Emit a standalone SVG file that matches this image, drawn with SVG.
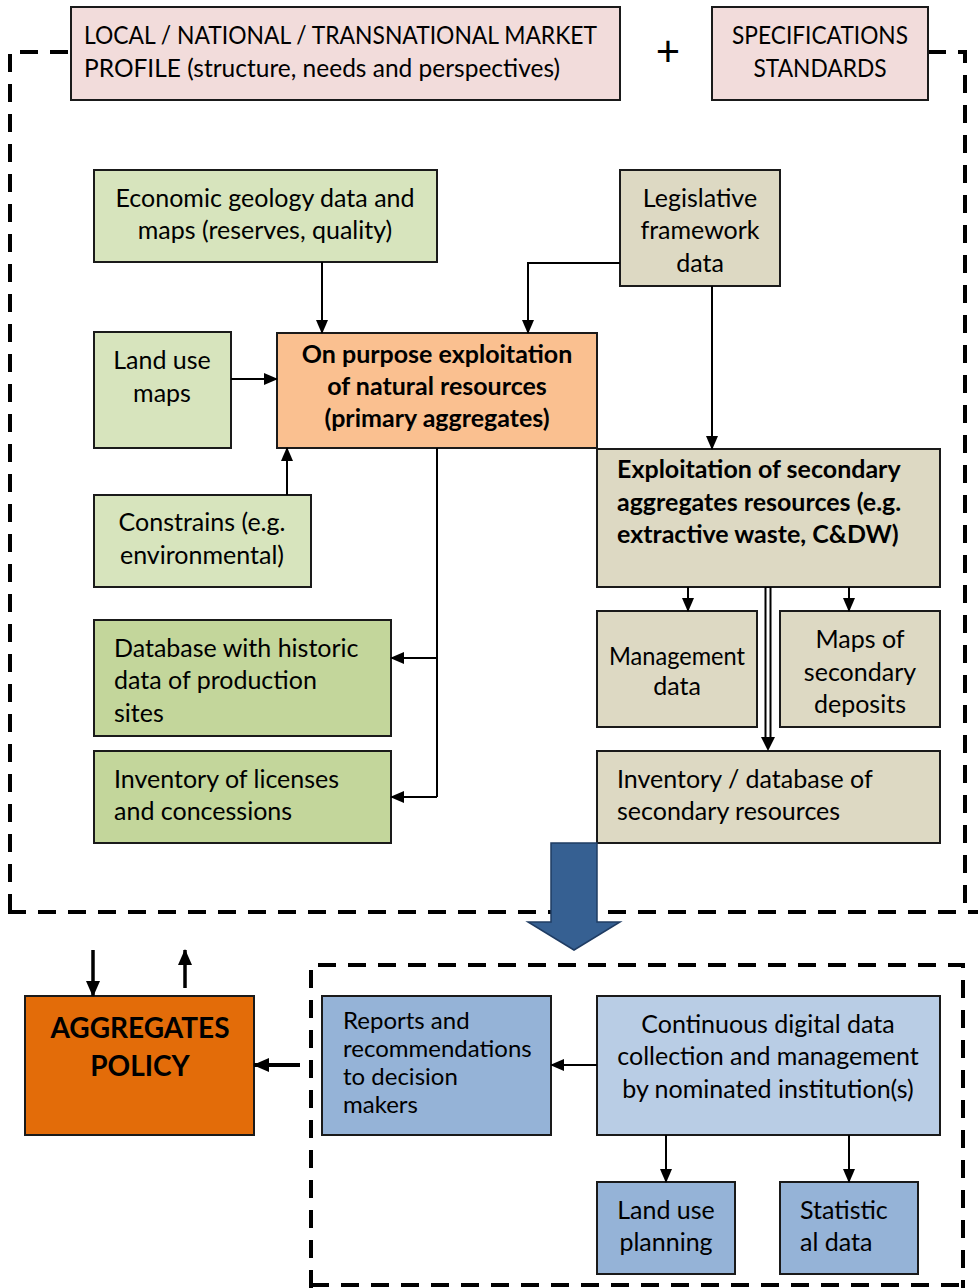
<svg xmlns="http://www.w3.org/2000/svg" width="980" height="1288" viewBox="0 0 980 1288">
<defs>
<marker id="ah" markerUnits="userSpaceOnUse" markerWidth="14" markerHeight="14" viewBox="0 0 14 14" refX="13" refY="7" orient="auto">
<path d="M0,1 L14,7 L0,13 Z" fill="#000"/>
</marker>
<marker id="ahb" markerUnits="userSpaceOnUse" markerWidth="16" markerHeight="16" viewBox="0 0 16 16" refX="15" refY="8" orient="auto">
<path d="M0,1 L16,8 L0,15 Z" fill="#000"/>
</marker>
</defs>
<style>
.box{stroke:#1a1a1a;stroke-width:2}
.pink{fill:#f2dcdb}
.lg{fill:#d7e4bd}
.dg{fill:#c3d69b}
.tan{fill:#ddd9c3}
.lor{fill:#fac090}
.or{fill:#e36c09}
.mb{fill:#95b3d7}
.lb{fill:#b9cde5}
text{font-family:Lato,"Open Sans","Liberation Sans",sans-serif;font-size:25px;fill:#000}
.c{text-anchor:middle}
.b{font-weight:bold}
.dash{fill:none;stroke:#000;stroke-width:4;stroke-dasharray:18 12}
.ln{fill:none;stroke:#000;stroke-width:2}
</style>
<rect width="980" height="1288" fill="#fff"/>

<g id="frames">
<path class="dash" d="M10,912 L10,52 L71,52"/>
<path class="dash" d="M928,52 L965,52 L965,912"/>
<path class="dash" d="M8,912 L978,912"/>
<path class="dash" d="M311,1288 L311,965 L963,965 L963,1288"/>
<path class="dash" d="M311,1285 L963,1285"/>
</g>

<g id="market">
<rect class="box pink" x="71" y="7" width="549" height="93"/>
<text x="84" y="44" textLength="513" lengthAdjust="spacingAndGlyphs">LOCAL / NATIONAL / TRANSNATIONAL MARKET</text>
<text x="84" y="77" textLength="476" lengthAdjust="spacingAndGlyphs">PROFILE (structure, needs and perspectives)</text>
</g>
<g id="plus"><text x="668" y="66" class="c" style="font-size:42px">+</text></g>
<g id="specs">
<rect class="box pink" x="712" y="7" width="216" height="93"/>
<text x="820" y="44" class="c" textLength="176" lengthAdjust="spacingAndGlyphs">SPECIFICATIONS</text>
<text x="820" y="77" class="c" textLength="133" lengthAdjust="spacingAndGlyphs">STANDARDS</text>
</g>

<g id="econ">
<rect class="box lg" x="94" y="170" width="343" height="92"/>
<text x="265" y="207" class="c">Economic geology data and</text>
<text x="265" y="239" class="c">maps (reserves, quality)</text>
</g>
<g id="legis">
<rect class="box tan" x="620" y="170" width="160" height="116"/>
<text x="700" y="207" class="c">Legislative</text>
<text x="700" y="239" class="c">framework</text>
<text x="700" y="272" class="c">data</text>
</g>
<g id="landuse">
<rect class="box lg" x="94" y="332" width="137" height="116"/>
<text x="162" y="369" class="c">Land use</text>
<text x="162" y="402" class="c">maps</text>
</g>
<g id="onpurpose">
<rect class="box lor" x="277" y="333" width="320" height="115"/>
<text x="437" y="363" class="c b">On purpose exploitation</text>
<text x="437" y="395" class="c b">of natural resources</text>
<text x="437" y="427" class="c b">(primary aggregates)</text>
</g>
<g id="constrains">
<rect class="box lg" x="94" y="495" width="217" height="92"/>
<text x="202" y="531" class="c">Constrains (e.g.</text>
<text x="202" y="564" class="c">environmental)</text>
</g>
<g id="secondary">
<rect class="box tan" x="597" y="449" width="343" height="138"/>
<text x="617" y="478" class="b">Exploitation of secondary</text>
<text x="617" y="511" class="b">aggregates resources (e.g.</text>
<text x="617" y="543" class="b">extractive waste, C&amp;DW)</text>
</g>
<g id="management">
<rect class="box tan" x="597" y="611" width="160" height="116"/>
<text x="677" y="665" class="c" textLength="136" lengthAdjust="spacingAndGlyphs">Management</text>
<text x="677" y="695" class="c">data</text>
</g>
<g id="mapssec">
<rect class="box tan" x="780" y="611" width="160" height="116"/>
<text x="860" y="648" class="c">Maps of</text>
<text x="860" y="681" class="c">secondary</text>
<text x="860" y="713" class="c">deposits</text>
</g>
<g id="invsec">
<rect class="box tan" x="597" y="751" width="343" height="92"/>
<text x="617" y="788">Inventory / database of</text>
<text x="617" y="820">secondary resources</text>
</g>
<g id="historic">
<rect class="box dg" x="94" y="620" width="297" height="116"/>
<text x="114" y="657">Database with historic</text>
<text x="114" y="689">data of production</text>
<text x="114" y="722">sites</text>
</g>
<g id="licenses">
<rect class="box dg" x="94" y="751" width="297" height="92"/>
<text x="114" y="788">Inventory of licenses</text>
<text x="114" y="820">and concessions</text>
</g>

<g id="policy">
<rect class="box or" x="25" y="996" width="229" height="139"/>
<text x="140" y="1038" class="c b" style="font-size:28px">AGGREGATES</text>
<text x="140" y="1076" class="c b" style="font-size:28px">POLICY</text>
</g>
<g id="reports">
<rect class="box mb" x="322" y="996" width="229" height="139"/>
<text x="343" y="1029" style="font-size:24px">Reports and</text>
<text x="343" y="1057" style="font-size:24px">recommendations</text>
<text x="343" y="1085" style="font-size:24px">to decision</text>
<text x="343" y="1113" style="font-size:24px">makers</text>
</g>
<g id="continuous">
<rect class="box lb" x="597" y="996" width="343" height="139"/>
<text x="768" y="1033" class="c">Continuous digital data</text>
<text x="768" y="1065" class="c">collection and management</text>
<text x="768" y="1098" class="c">by nominated institution(s)</text>
</g>
<g id="landplan">
<rect class="box mb" x="597" y="1182" width="138" height="92"/>
<text x="666" y="1219" class="c">Land use</text>
<text x="666" y="1251" class="c">planning</text>
</g>
<g id="statistic">
<rect class="box mb" x="780" y="1182" width="138" height="92"/>
<text x="800" y="1219">Statistic</text>
<text x="800" y="1251">al data</text>
</g>

<g id="connectors">
<path class="ln" d="M322,262 L322,333" marker-end="url(#ah)"/>
<path class="ln" d="M620,263 L528,263 L528,333" marker-end="url(#ah)"/>
<path class="ln" d="M712,286 L712,449" marker-end="url(#ah)"/>
<path class="ln" d="M231,379 L277,379" marker-end="url(#ah)"/>
<path class="ln" d="M287,495 L287,448" marker-end="url(#ah)"/>
<path class="ln" d="M437,448 L437,797"/>
<path class="ln" d="M437,658 L391,658" marker-end="url(#ah)"/>
<path class="ln" d="M437,797 L391,797" marker-end="url(#ah)"/>
<path class="ln" d="M688,587 L688,611" marker-end="url(#ah)"/>
<path class="ln" d="M849,587 L849,611" marker-end="url(#ah)"/>
<path d="M768,587 L768,740" fill="none" stroke="#000" stroke-width="7"/>
<path d="M768,588 L768,740" fill="none" stroke="#fff" stroke-width="3"/>
<path d="M761,737 L775,737 L768,751 Z" fill="#000"/>
<path d="M551,843 L597,843 L597,922 L620,922 L574,950 L528,922 L551,922 Z" fill="#366092" stroke="#1f3c63" stroke-width="1.5"/>
<path d="M93,950 L93,996" fill="none" stroke="#000" stroke-width="3.5" marker-end="url(#ahb)"/>
<path d="M185,988 L185,950" fill="none" stroke="#000" stroke-width="3.5" marker-end="url(#ahb)"/>
<path d="M300,1065 L254,1065" fill="none" stroke="#000" stroke-width="4" marker-end="url(#ahb)"/>
<path class="ln" d="M597,1065 L551,1065" marker-end="url(#ah)"/>
<path class="ln" d="M666,1135 L666,1182" marker-end="url(#ah)"/>
<path class="ln" d="M849,1135 L849,1182" marker-end="url(#ah)"/>
</g>
</svg>
